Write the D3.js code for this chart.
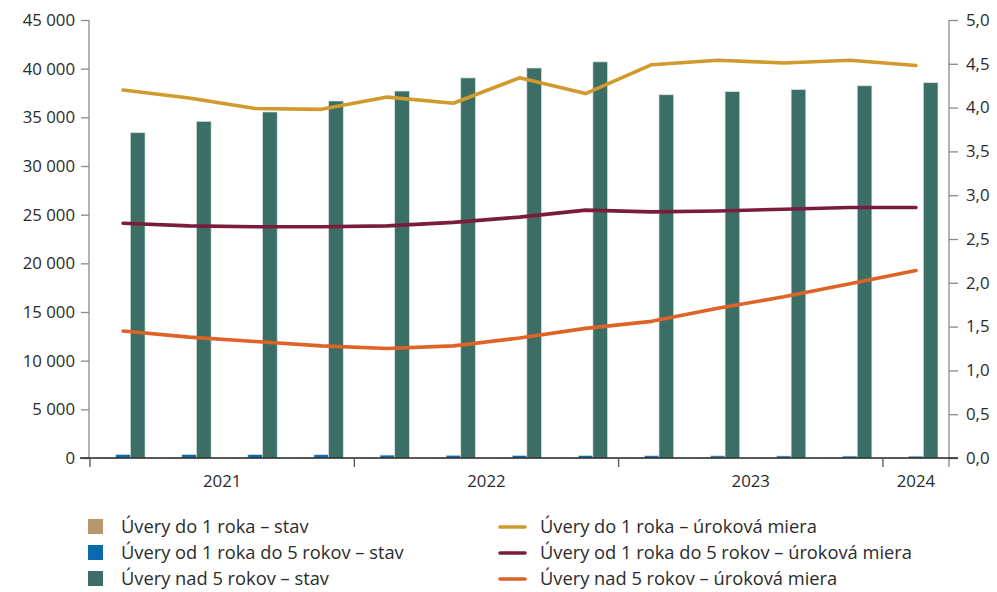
<!DOCTYPE html>
<html><head><meta charset="utf-8">
<script src="https://cdn.jsdelivr.net/npm/d3@7"></script>
<style>
html,body{margin:0;padding:0;background:#fff;}
svg{display:block;font-family:"Open Sans",Lato,sans-serif;}
</style></head>
<body><svg id="c" width="997" height="592"></svg>
<script>
const quarters = ["2021Q1","2021Q2","2021Q3","2021Q4","2022Q1","2022Q2","2022Q3","2022Q4","2023Q1","2023Q2","2023Q3","2023Q4","2024Q1"];
const years = [
  {label:"2021", from:"2021Q1", to:"2021Q4"},
  {label:"2022", from:"2022Q1", to:"2022Q4"},
  {label:"2023", from:"2023Q1", to:"2023Q4"},
  {label:"2024", from:"2024Q1", to:"2024Q1"}
];
const stockDo1 = [30,30,30,30,30,25,25,25,20,20,20,20,20];
const stockOd1Do5 = [370,360,350,340,300,280,260,250,230,220,210,200,190];
const stockNad5 = [33420,34590,35550,36680,37700,39050,40070,40700,37320,37640,37850,38240,38560];
const rateDo1 = [4.20,4.11,3.99,3.98,4.12,4.05,4.34,4.16,4.49,4.54,4.51,4.54,4.48];
const rateOd1Do5 = [2.68,2.65,2.64,2.64,2.65,2.69,2.75,2.83,2.81,2.82,2.84,2.86,2.86];
const rateNad5 = [1.45,1.38,1.33,1.28,1.25,1.28,1.37,1.48,1.56,1.71,1.84,1.99,2.14];
const leftTicks = [0,5000,10000,15000,20000,25000,30000,35000,40000,45000];
const rightTicks = [0,0.5,1,1.5,2,2.5,3,3.5,4,4.5,5];

const barSeries = [
  {name:"Úvery do 1 roka – stav", values:stockDo1, color:"#b8966e"},
  {name:"Úvery od 1 roka do 5 rokov – stav", values:stockOd1Do5, color:"#0b69ad"},
  {name:"Úvery nad 5 rokov – stav", values:stockNad5, color:"#3b6e65"}
];
const lineSeries = [
  {name:"Úvery do 1 roka – úroková miera", values:rateDo1, color:"#d29a2c"},
  {name:"Úvery od 1 roka do 5 rokov – úroková miera", values:rateOd1Do5, color:"#7a1d3d"},
  {name:"Úvery nad 5 rokov – úroková miera", values:rateNad5, color:"#de6327"}
];

const svg = d3.select("#c");
const FONT = "'Open Sans', Lato, sans-serif";
const L = 90, R = 949, T = 20, B = 458;
const x = d3.scaleBand().domain(quarters).range([L, R]).padding(0);
const xs = d3.scaleBand().domain(barSeries.map(d=>d.name)).range([-22, 22]).padding(0);
const yL = d3.scaleLinear().domain([0,45000]).range([B, T]);
const yR = d3.scaleLinear().domain([0,5]).range([B, T]);
const txt = "#2b2b2b", axc = "#8a8a8a";

// bars
barSeries.forEach(s => {
  svg.append("g").selectAll("rect").data(s.values).join("rect")
    .attr("x", (d,i) => x(quarters[i]) + x.bandwidth()/2 + xs(s.name))
    .attr("width", xs.bandwidth())
    .attr("y", d => yL(d))
    .attr("height", d => B - yL(d))
    .attr("fill", s.color)
    .attr("stroke", "#d6e4e0").attr("stroke-width", 0.7);
});

// lines
lineSeries.forEach(s => {
  const line = d3.line().x((d,i) => x(quarters[i]) + x.bandwidth()/2).y(d => yR(d));
  svg.append("path").datum(s.values).attr("d", line)
    .attr("fill","none").attr("stroke", s.color).attr("stroke-width", 3.6)
    .attr("stroke-linecap","round").attr("stroke-linejoin","round");
});

const fmt = v => d3.format(",")(v).replace(/,/g, "\u00a0");
// left axis
const gl = svg.append("g").attr("transform", `translate(${L-1},0)`)
  .call(d3.axisLeft(yL).tickValues(leftTicks).tickSize(8).tickPadding(6).tickFormat(fmt));
gl.selectAll("line, path").attr("stroke", axc).attr("stroke-width", 1.3);
gl.selectAll("text").attr("fill", txt).style("font-size","16.8px").style("font-family",FONT);
// right axis
const gr = svg.append("g").attr("transform", `translate(${R},0)`)
  .call(d3.axisRight(yR).tickValues(rightTicks).tickSize(9).tickPadding(8)
    .tickFormat(v => d3.format(".1f")(v).replace(".", ",")));
gr.selectAll("line, path").attr("stroke", axc).attr("stroke-width", 1.3);
gr.selectAll("text").attr("fill", txt).style("font-size","16.8px").style("font-family",FONT);
gl.select(".domain").attr("d", `M0,${T}V${B}`);
gr.select(".domain").attr("d", `M0,${T}V${B+9}`);

// bottom axis
svg.append("line").attr("x1", 80).attr("x2", 958).attr("y1", B).attr("y2", B)
  .attr("stroke", "#222").attr("stroke-width", 1.3);
const yearBounds = years.map(yv => ({label:yv.label, x0:x(yv.from), x1:x(yv.to)+x.bandwidth()}));
const sepXs = [yearBounds[0].x0, ...yearBounds.map(d => d.x1)];
svg.append("g").selectAll("line").data(sepXs.slice(0, -1)).join("line")
  .attr("x1", d => d).attr("x2", d => d).attr("y1", B).attr("y2", B + 9)
  .attr("stroke", "#555").attr("stroke-width", 1.3);
svg.append("g").selectAll("text").data(yearBounds).join("text")
  .attr("x", d => (d.x0 + d.x1)/2).attr("y", 487)
  .attr("text-anchor","middle").attr("fill", txt).style("font-size","16.8px").style("font-family",FONT)
  .text(d => d.label);

// legend
const rowY = [527, 553, 579];
const lg = svg.append("g").style("font-family",FONT);
barSeries.forEach((s,i) => {
  lg.append("rect").attr("x", 88).attr("y", rowY[i]-8).attr("width", 15).attr("height", 15).attr("fill", s.color);
  lg.append("text").attr("x", 121).attr("y", rowY[i]+6).attr("fill", txt).style("font-size","18.3px").text(s.name);
});
lineSeries.forEach((s,i) => {
  lg.append("line").attr("x1", 500).attr("x2", 525).attr("y1", rowY[i]).attr("y2", rowY[i])
    .attr("stroke", s.color).attr("stroke-width", 3.6).attr("stroke-linecap","round");
  lg.append("text").attr("x", 540).attr("y", rowY[i]+6).attr("fill", txt).style("font-size","18.3px").text(s.name);
});
</script></body></html>
